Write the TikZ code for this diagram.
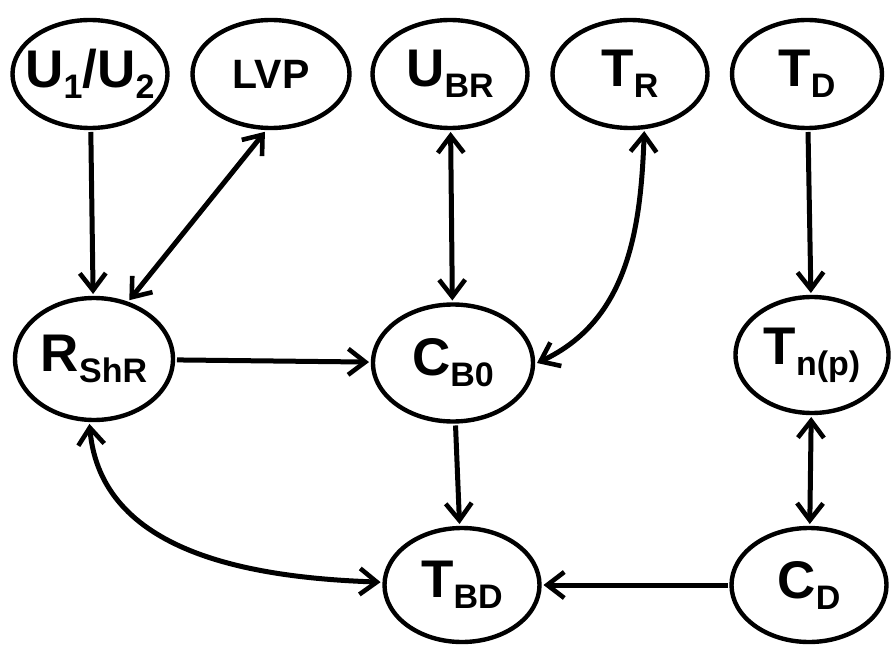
\documentclass[tikz,border=0pt]{standalone}
\usepackage{fontspec}
\setmainfont{Liberation Sans}
\usepackage{tikz}
\usetikzlibrary{shapes.geometric,arrows.meta}

\newcommand{\lowsub}[1]{\raisebox{-11pt}{\fontsize{34}{36}\selectfont #1}}
\newcommand{\varname}[2]{\makebox[0pt]{#1\lowsub{#2}}}

\begin{document}
\begin{tikzpicture}[x=1pt,y=1pt,
    var/.style={ellipse,draw,line width=4.4pt,inner sep=0pt,outer sep=4pt,
        minimum width=155pt,minimum height=108pt,
        font=\bfseries\fontsize{53}{56}\selectfont},
    link/.style={line width=5pt,
        >={Straight Barb[length=17pt,width=26pt,line width=4.6pt]}}]
    \useasboundingbox (0,0) rectangle (891,-647);
    \node[var] (U12) at (90,-74) {\makebox[0pt]{U\lowsub{1}/U\lowsub{2}}};
    \node[var,minimum width=157pt] (LVP) at (271,-74) {\fontsize{41}{44}\selectfont LVP};
    \node[var] (UBR) at (450,-74) {\varname{U}{BR}};
    \node[var] (TR) at (630,-74) {\varname{T}{R}};
    \node[var,minimum width=150pt] (TD) at (807,-74) {\varname{T}{D}};
    \node[var,minimum width=158pt,minimum height=122pt] (RShR) at (94,-359) {\varname{R}{ShR}};
    \node[var,minimum width=160pt,minimum height=117pt] (CB0) at (453,-363) {\varname{C}{B0}};
    \node[var,minimum width=153pt,minimum height=116pt] (Tnp) at (812,-355) {\varname{T}{n(p)}};
    \node[var,minimum height=114pt] (TBD) at (462,-585) {\varname{T}{BD}};
    \node[var,minimum height=114pt] (CD) at (809,-585) {\varname{C}{D}};
    \draw[link,->] (U12) -- (RShR);
    \draw[link,<->] (LVP.-96) -- (RShR.59);
    \draw[link,<->] (UBR) -- (CB0);
    \draw[link,<->] (TR.-76) to[out=-92,in=25] (CB0.east);
    \draw[link,->] (TD) -- (Tnp);
    \draw[link,->] (RShR) -- (CB0);
    \draw[link,->] (CB0) -- (TBD);
    \draw[link,<->] (Tnp) -- (CD);
    \draw[link,<->] (RShR.-94) to[out=-85,in=178] (TBD);
    \draw[link,->] (CD) -- (TBD);
\end{tikzpicture}
\end{document}
